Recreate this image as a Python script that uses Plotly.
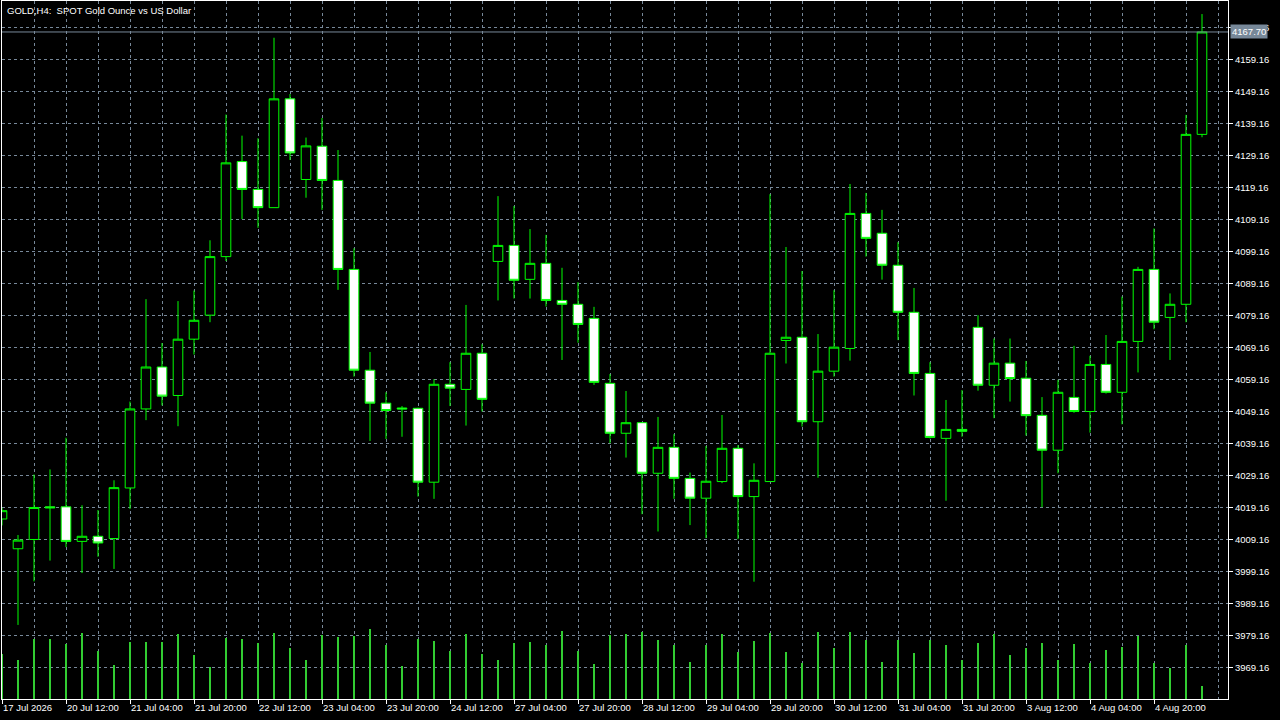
import plotly.graph_objects as go

# ---- data ----
bar_index = list(range(76))
opens = [4015.5, 4006.2, 4009.1, 4019.3, 4019.3, 4008.5, 4010.1, 4009.4, 4025.2, 4049.9,
         4063.0, 4054.1, 4071.7, 4079.2, 4097.5, 4127.2, 4118.5, 4112.8, 4146.8, 4121.6,
         4132.0, 4121.3, 4093.5, 4062.0, 4051.7, 4050.2, 4050.1, 4027.0, 4057.6, 4056.0,
         4067.3, 4096.0, 4101.0, 4090.4, 4095.4, 4083.8, 4082.6, 4078.2, 4057.9, 4042.3,
         4045.6, 4029.8, 4037.9, 4028.2, 4022.0, 4027.2, 4037.6, 4022.5, 4027.2, 4071.3,
         4072.3, 4045.9, 4061.7, 4068.8, 4111.0, 4104.8, 4094.8, 4080.1, 4061.0, 4040.7,
         4043.5, 4075.4, 4057.3, 4064.2, 4059.5, 4047.9, 4037.0, 4053.5, 4049.1, 4063.8,
         4055.1, 4071.0, 4093.5, 4078.5, 4082.6, 4135.7]
highs = [4019.0, 4010.5, 4029.4, 4031.0, 4040.9, 4019.8, 4018.3, 4027.6, 4052.2, 4084.2,
         4070.5, 4083.6, 4086.9, 4102.6, 4141.9, 4135.3, 4134.5, 4165.9, 4148.3, 4134.7,
         4140.8, 4130.8, 4100.1, 4067.7, 4055.1, 4050.8, 4050.3, 4059.2, 4064.5, 4082.4,
         4070.1, 4116.4, 4113.3, 4106.1, 4104.3, 4094.0, 4089.5, 4081.8, 4060.8, 4055.5,
         4045.8, 4047.4, 4042.0, 4030.0, 4038.3, 4048.0, 4038.6, 4032.9, 4117.0, 4100.5,
         4093.0, 4073.3, 4087.0, 4120.2, 4117.4, 4112.1, 4102.0, 4087.7, 4064.5, 4052.7,
         4055.8, 4079.2, 4071.9, 4071.9, 4064.9, 4053.6, 4059.0, 4069.6, 4066.5, 4073.0,
         4085.0, 4094.3, 4106.3, 4086.0, 4141.8, 4173.3]
lows = [4013.5, 3982.4, 3996.0, 4002.5, 4006.7, 3998.6, 4003.7, 3999.9, 4018.6, 4046.4,
        4051.0, 4044.5, 4066.9, 4077.0, 4096.1, 4109.2, 4106.5, 4112.8, 4127.7, 4115.9,
        4112.1, 4087.1, 4060.0, 4039.9, 4040.5, 4041.2, 4022.5, 4021.8, 4050.8, 4044.7,
        4049.1, 4083.8, 4084.4, 4084.4, 4081.9, 4065.2, 4070.6, 4057.4, 4039.2, 4034.7,
        4017.0, 4011.6, 4021.8, 4013.6, 4009.5, 4026.7, 4009.2, 3995.9, 4027.2, 4064.1,
        4044.4, 4028.4, 4060.0, 4065.0, 4097.5, 4090.3, 4071.4, 4054.1, 4040.7, 4021.2,
        4041.2, 4055.6, 4047.0, 4052.2, 4041.6, 4019.2, 4029.8, 4048.7, 4042.5, 4054.7,
        4045.1, 4061.3, 4074.8, 4065.2, 4077.0, 4134.8]
closes = [4018.1, 4008.9, 4019.1, 4019.0, 4008.5, 4010.1, 4008.0, 4025.3, 4049.9, 4063.0,
          4053.9, 4071.7, 4077.6, 4097.5, 4126.8, 4118.5, 4112.8, 4146.8, 4129.9, 4132.1,
          4121.3, 4093.5, 4062.0, 4051.7, 4049.4, 4049.9, 4027.0, 4057.6, 4056.4, 4067.3,
          4052.9, 4101.0, 4090.1, 4095.4, 4083.8, 4082.6, 4076.3, 4058.2, 4042.3, 4045.6,
          4029.8, 4037.9, 4028.2, 4022.0, 4027.3, 4037.6, 4022.5, 4027.6, 4067.3, 4072.3,
          4045.9, 4061.7, 4069.2, 4111.0, 4103.2, 4094.8, 4080.1, 4061.0, 4041.0, 4043.5,
          4042.9, 4057.3, 4064.2, 4059.4, 4047.8, 4037.0, 4055.1, 4049.1, 4063.8, 4055.1,
          4071.0, 4093.5, 4077.0, 4082.6, 4135.7, 4167.7]
tick_volume = [45, 39, 60, 60, 55, 66, 48, 34, 57, 57,
               57, 65, 44, 32, 61, 60, 56, 66, 51, 39,
               64, 62, 63, 70, 54, 33, 60, 58, 48, 65,
               45, 39, 56, 57, 54, 68, 48, 35, 64, 65,
               67, 59, 54, 37, 54, 65, 47, 58, 66, 47,
               36, 67, 51, 67, 59, 37, 59, 46, 59, 54,
               39, 56, 65, 44, 51, 56, 39, 55, 36, 49,
               52, 63, 36, 31, 54, 13]
label_index = [0, 4, 8, 12, 16, 20, 24, 28, 32, 36, 40, 44, 48, 52, 56, 60, 64, 68, 72]
label_text = ["17 Jul 2026", "20 Jul 12:00", "21 Jul 04:00", "21 Jul 20:00", "22 Jul 12:00",
              "23 Jul 04:00", "23 Jul 20:00", "24 Jul 12:00", "27 Jul 04:00", "27 Jul 20:00",
              "28 Jul 12:00", "29 Jul 04:00", "29 Jul 20:00", "30 Jul 12:00", "31 Jul 04:00",
              "31 Jul 20:00", "3 Aug 12:00", "4 Aug 04:00", "4 Aug 20:00"]
price_ticks = [3969.16 + 10 * i for i in range(21)]
price_labels = [f"{v:.2f}" for v in price_ticks]
bid_price = 4167.70
title_text = "GOLD,H4:  SPOT Gold Ounce vs US Dollar"

# ---- style ----
FONT = "Liberation Sans"
GRID = "#778899"
CANDLE = "#00FF00"
VOL = "#32CD32"
TICK_SIZE = 9.5

fig = go.Figure()

fig.add_trace(go.Bar(
    x=bar_index, y=tick_volume, yaxis="y2", width=0.125,
    marker=dict(color=VOL, line=dict(width=0)), hoverinfo="skip", showlegend=False,
))

fig.add_trace(go.Candlestick(
    x=bar_index, open=opens, high=highs, low=lows, close=closes,
    increasing=dict(line=dict(color=CANDLE, width=1), fillcolor="#000000"),
    decreasing=dict(line=dict(color=CANDLE, width=1), fillcolor="#FFFFFF"),
    whiskerwidth=0, showlegend=False, hoverinfo="skip",
))

fig.add_shape(type="line", xref="paper", x0=0, x1=1, yref="y", y0=bid_price, y1=bid_price,
              line=dict(color=GRID, width=1), layer="above")

fig.add_annotation(xref="paper", x=1, xanchor="left", xshift=2, yref="y", y=bid_price,
                   yanchor="middle", text=f"{bid_price:.2f}", showarrow=False,
                   bgcolor=GRID, borderpad=1,
                   font=dict(family=FONT, size=TICK_SIZE, color="#FFFFFF"))

fig.add_annotation(xref="paper", x=0, xanchor="left", xshift=3, yref="paper", y=1,
                   yanchor="top", yshift=-2, text=title_text, showarrow=False,
                   font=dict(family=FONT, size=9.5, color="#FFFFFF"))

fig.update_layout(
    width=1280, height=720,
    margin=dict(l=2, r=52, t=1, b=21, autoexpand=False),
    paper_bgcolor="#000000", plot_bgcolor="#000000",
    font=dict(family=FONT, size=TICK_SIZE, color="#FFFFFF"),
    bargap=0, boxgap=0.4, boxgroupgap=0,
    xaxis=dict(
        range=[0, 76.625], tickmode="array", tickvals=label_index, ticktext=label_text,
        ticks="outside", ticklen=4, tickcolor="#FFFFFF", tickwidth=1,
        ticklabelposition="outside right",
        tickfont=dict(family=FONT, size=TICK_SIZE, color="#FFFFFF"),
        showgrid=True, gridcolor=GRID, gridwidth=1, griddash="3px,3px",
        minor=dict(tickmode="linear", tick0=0, dtick=2, showgrid=True, gridcolor=GRID,
                   gridwidth=1, griddash="3px,3px", ticks=""),
        showline=True, mirror=True, linecolor="#FFFFFF", linewidth=1,
        zeroline=False, rangeslider=dict(visible=False), fixedrange=True,
    ),
    yaxis=dict(
        side="right", range=[3959.25, 4177.38], tickmode="array",
        tickvals=price_ticks, ticktext=price_labels,
        ticks="outside", ticklen=4, tickcolor="#FFFFFF", tickwidth=1,
        tickfont=dict(family=FONT, size=TICK_SIZE, color="#FFFFFF"),
        showgrid=True, gridcolor=GRID, gridwidth=1, griddash="3px,3px",
        showline=True, mirror=True, linecolor="#FFFFFF", linewidth=1,
        zeroline=False, fixedrange=True,
    ),
    yaxis2=dict(overlaying="y", range=[0, 698], visible=False, fixedrange=True),
)

fig.write_html(
    "out.html",
    config={"displayModeBar": False, "staticPlot": True},
    post_script="document.body.style.margin='0';document.body.style.background='#000';",
)
